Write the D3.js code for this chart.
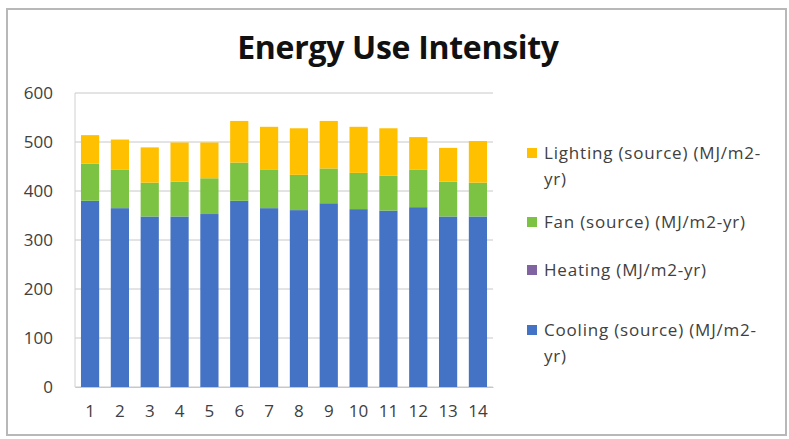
<!DOCTYPE html>
<html>
<head>
<meta charset="utf-8">
<script src="https://cdn.jsdelivr.net/npm/d3@7/dist/d3.min.js"></script>
<style>
  html, body { margin: 0; padding: 0; background: #fff; }
  svg { display: block; }
  text { font-family: "Open Sans", "Noto Sans", sans-serif; fill: #404040; }
</style>
</head>
<body>
<svg id="chart" width="789" height="439"></svg>
<script>
// Building cases 1–14, energy by end use (MJ/m2-yr)
const categories = ["1","2","3","4","5","6","7","8","9","10","11","12","13","14"];
const cooling  = [380, 365, 348, 348, 353, 380, 365, 361, 375, 363, 360, 367, 348, 348];
const heating  = [0, 0, 0, 0, 0, 0, 0, 0, 0, 0, 0, 0, 0, 0];
const fan      = [76, 79, 69, 71, 73, 78, 78, 72, 71, 74, 71, 77, 71, 69];
const lighting = [58, 61, 72, 80, 73, 85, 88, 95, 97, 94, 97, 66, 69, 85];
const yTicks = [0, 100, 200, 300, 400, 500, 600];

// Stack order, bottom to top
const seriesKeys = ["cooling", "heating", "fan", "lighting"];
const seriesData = { cooling, heating, fan, lighting };
const colors = { cooling: "#4472C4", heating: "#8064A2", fan: "#7CC243", lighting: "#FFC000" };
const legendItems = [
  { key: "lighting", lines: ["Lighting (source) (MJ/m2-", "yr)"] },
  { key: "fan",      lines: ["Fan (source) (MJ/m2-yr)"] },
  { key: "heating",  lines: ["Heating (MJ/m2-yr)"] },
  { key: "cooling",  lines: ["Cooling (source) (MJ/m2-", "yr)"] }
];

const svg = d3.select("#chart");

// chart frame
svg.append("rect")
  .attr("x", 7).attr("y", 9).attr("width", 779).attr("height", 426)
  .attr("fill", "#fff").attr("stroke", "#b8b8b8").attr("stroke-width", 2);

const plot = { left: 75, right: 493, top: 93, bottom: 387 };

const x = d3.scaleBand().domain(categories).range([plot.left, plot.right]).paddingInner(0.39).paddingOuter(0.2);
const y = d3.scaleLinear().domain([0, 600]).range([plot.bottom, plot.top]);

// title
svg.append("text")
  .attr("x", 398).attr("y", 59)
  .attr("text-anchor", "middle")
  .style("font-size", "32px").style("font-weight", "bold").style("fill", "#111")
  .style("letter-spacing", "-0.3px")
  .text("Energy Use Intensity");

// gridlines
svg.append("g")
  .selectAll("line")
  .data(yTicks)
  .join("line")
  .attr("x1", plot.left).attr("x2", plot.right)
  .attr("y1", d => y(d)).attr("y2", d => y(d))
  .attr("stroke", "#c8c8c8").attr("stroke-width", 1);

// left edge of plot area
svg.append("line")
  .attr("x1", plot.left).attr("x2", plot.left)
  .attr("y1", plot.top).attr("y2", plot.bottom)
  .attr("stroke", "#d0d0d0");

// stacked bars
const rows = categories.map((c, i) => {
  const r = { cat: c };
  seriesKeys.forEach(k => r[k] = seriesData[k][i]);
  return r;
});
const stack = d3.stack().keys(seriesKeys)(rows);

svg.append("g")
  .selectAll("g")
  .data(stack)
  .join("g")
  .attr("fill", d => colors[d.key])
  .selectAll("rect")
  .data(d => d)
  .join("rect")
  .attr("x", d => x(d.data.cat))
  .attr("width", x.bandwidth())
  .attr("y", d => y(d[1]))
  .attr("height", d => y(d[0]) - y(d[1]));

// y axis
const yAxis = d3.axisLeft(y).tickValues(yTicks).tickSize(0).tickPadding(22);
const gy = svg.append("g").attr("transform", `translate(${plot.left},0)`).call(yAxis);
gy.select(".domain").remove();
gy.selectAll("text").style("font-size", "17px").style("fill", "#404040")
  .style("font-family", "'Open Sans', sans-serif");

// x axis
const xAxis = d3.axisBottom(x).tickSize(0).tickPadding(18);
const gx = svg.append("g").attr("transform", `translate(0,${plot.bottom})`).call(xAxis);
gx.select(".domain").attr("stroke", "#c8c8c8");
gx.selectAll("text").style("font-size", "17px").style("fill", "#404040")
  .style("font-family", "'Open Sans', sans-serif");

// legend
const legendY = { lighting: 153, fan: 222, heating: 270, cooling: 330 };
const lg = svg.append("g");
legendItems.forEach(item => {
  const cy = legendY[item.key];
  lg.append("rect")
    .attr("x", 527).attr("y", cy - 5).attr("width", 10).attr("height", 10)
    .attr("fill", colors[item.key]);
  item.lines.forEach((line, j) => {
    lg.append("text")
      .attr("x", 544).attr("y", cy + 6 + j * 26)
      .style("font-size", "17px")
      .style("letter-spacing", "0.8px")
      .text(line);
  });
});
</script>
</body>
</html>
